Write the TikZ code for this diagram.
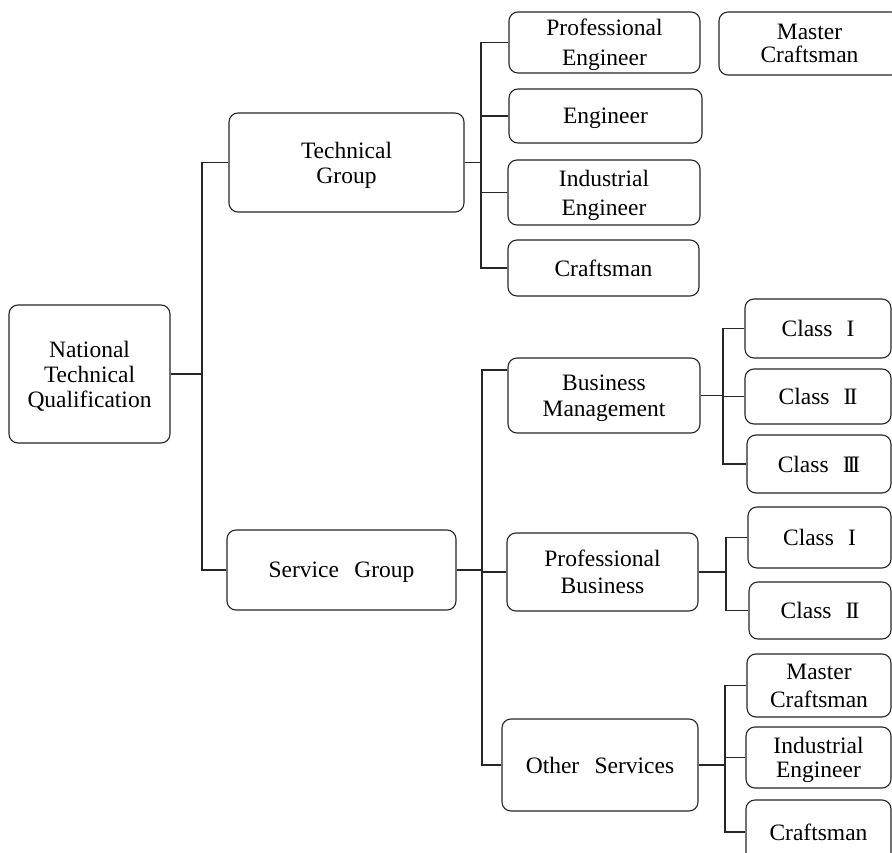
\documentclass[tikz,border=0pt]{standalone}
\usepackage{fontspec}
\setmainfont{Liberation Serif}
\newcommand{\RomI}{I}
\newcommand{\RomII}{I\kern-2pt I}
\newcommand{\RomIII}{I\kern-3pt I\kern-3pt I}
\newcommand{\clsgap}{\hspace{0.6em}}
\begin{document}
\begin{tikzpicture}[x=1pt,y=-1pt,
  box/.style={draw=black!85, line width=1.1pt, rounded corners=9pt, align=center,
    inner sep=0pt, text depth=0pt, font=\fontsize{23.5}{25}\selectfont, text=black},
  wh/.style 2 args={minimum width=#1pt, minimum height=#2pt},
  conn/.style={draw=black!85, line width=1.1pt}]
\useasboundingbox (0,0) rectangle (892,853);
\clip (0,0) rectangle (892,853);
\fill[white] (0,0) rectangle (892,853);

% level 0
\node[box, wh={161}{138}] (ntq) at (89.5,374) {National\\Technical\\Qualification};
% level 1
\node[box, wh={235}{99}] (tg) at (346.5,162.5) {Technical\\Group};
\node[box, wh={229}{80}] (sg) at (341.5,570) {Service\hspace{0.4em} Group};
% technical children
\node[box, wh={191}{61}] (pe) at (604.5,42.5) {Professional\\[5pt]Engineer};
\node[box, wh={193}{54}] (en) at (605.5,116) {Engineer};
\node[box, wh={192}{65}] (ie) at (604,192.5) {Industrial\\[4pt]Engineer};
\node[box, wh={191}{56}] (cr) at (603.5,268) {Craftsman};
\node[box, wh={181}{63}] (mc) at (809.5,43.5) {Master\\[-2pt]Craftsman};
% service children
\node[box, wh={192}{75}] (bm) at (604,395.5) {Business\\[1pt]Management};
\node[box, wh={191}{78}] (pb) at (602.5,572) {Professional\\[2pt]Business};
\node[box, wh={196}{92}] (os) at (600,765) {Other\hspace{0.4em} Services};
% business management children
\node[box, wh={146}{59}] (c1) at (818,328.5) {Class\clsgap\RomI};
\node[box, wh={146}{55}] (c2) at (818,396.5) {Class\clsgap\RomII};
\node[box, wh={144}{58}] (c3) at (819,464) {Class\clsgap\RomIII};
% professional business children
\node[box, wh={143}{61}] (d1) at (819.5,537.5) {Class\clsgap\RomI};
\node[box, wh={142}{57}] (d2) at (820,610.5) {Class\clsgap\RomII};
% other services children
\node[box, wh={144}{63}] (e1) at (819,685.5) {Master\\[3pt]Craftsman};
\node[box, wh={145}{61}] (e2) at (818.5,757.5) {Industrial\\[-1pt]Engineer};
\node[box, wh={145}{64}] (e3) at (818.5,832) {Craftsman};

% junctions
\coordinate (j0) at (202,374);
\coordinate (j1) at (481,162.5);
\coordinate (j2) at (482,570);
\coordinate (j3) at (723,395.5);
\coordinate (j4) at (726,572);
\coordinate (j5) at (725,765);

% connectors
\draw[conn] (ntq.east) -- (j0);
\draw[conn] (tg.west) -| (j0);
\draw[conn] (sg.west) -| (j0);

\draw[conn] (tg.east) -- (j1);
\draw[conn] (pe.west) -| (j1);
\draw[conn] (en.west) -| (j1);
\draw[conn] (ie.west) -| (j1);
\draw[conn] (cr.west) -| (j1);

\draw[conn] (sg.east) -- (j2);
\draw[conn] (bm.west |- 0,370) -| (j2);
\draw[conn] (pb.west) -| (j2);
\draw[conn] (os.west) -| (j2);

\draw[conn] (bm.east) -- (j3);
\draw[conn] (c1.west) -| (j3);
\draw[conn] (c2.west) -| (j3);
\draw[conn] (c3.west) -| (j3);

\draw[conn] (pb.east) -- (j4);
\draw[conn] (d1.west) -| (j4);
\draw[conn] (d2.west) -| (j4);

\draw[conn] (os.east) -- (j5);
\draw[conn] (e1.west) -| (j5);
\draw[conn] (e2.west) -| (j5);
\draw[conn] (e3.west) -| (j5);
\end{tikzpicture}
\end{document}
